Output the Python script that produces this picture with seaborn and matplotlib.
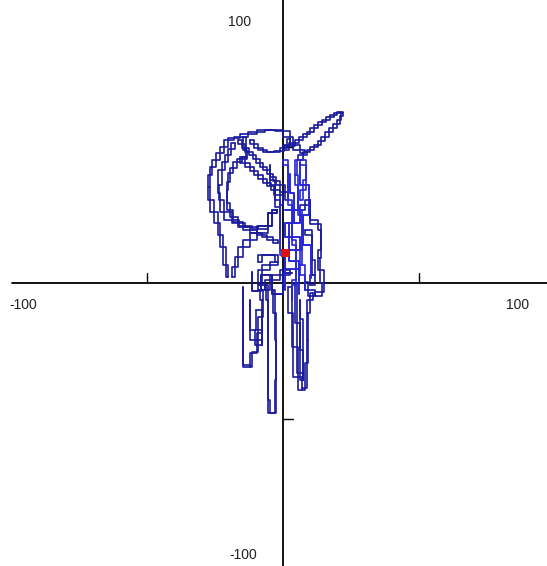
import matplotlib
matplotlib.use("Agg")
import matplotlib.pyplot as plt
import seaborn as sns
import pandas as pd

# ---- data (hand-traced path, data units) ----
outer_left_x = [-18.8, -17.7, -16.6, -14.8, -12.2, -9.6, -5.5, -4.1, -2.2]
outer_left_y = [2.2, 5.9, 9.6, 13.2, 15.8, 18.4, 21.0, 25.7, 26.8]
outer_x = [-20.3, -21.0, -22.1, -23.2, -24.0, -25.5, -26.9, -27.7, -26.9, -26.2, -24.7, -23.2,
           -21.8, -20.3, -18.1, -15.9, -12.9, -9.6, -6.6, -3.0, 0.0, 2.6, 3.7, 6.3, 8.1]
outer_y = [2.2, 6.6, 13.2, 17.6, 22.1, 26.1, 30.5, 35.3, 39.7, 42.6, 45.2, 47.8,
           50.0, 52.6, 53.3, 53.7, 54.8, 55.5, 56.3, 56.3, 55.9, 53.7, 50.7, 48.9, 47.8]
arm_x = [0.0, 2.2, 4.4, 6.0, 7.4, 8.8, 10.0, 11.5, 12.9, 14.4, 15.9, 17.3, 18.8, 20.0, 21.0, 22.1,
         21.5, 21.0, 19.8, 18.5, 17.0, 15.5, 14.2, 12.9, 11.5, 10.0, 8.7, 7.4, 5.5]
arm_y = [48.9, 50.2, 51.5, 52.6, 53.7, 54.6, 55.5, 56.8, 58.1, 59.0, 59.9, 60.9, 61.8, 62.4, 62.9, 62.5,
         61.2, 59.9, 58.5, 57.0, 55.4, 53.7, 52.2, 50.7, 49.8, 48.9, 48.0, 47.1, 45.2]
cap_x = [-12.2, -10.7, -9.2, -7.5, -5.9, -3.5, -1.1, 0.4, 1.5, 2.6]
cap_y = [52.6, 51.1, 49.6, 48.9, 48.2, 48.3, 48.5, 49.6, 50.7, 52.9]
inner_x = [-14.8, -13.7, -13.3, -15.2, -17.0, -18.3, -19.6, -20.2, -20.7, -20.7, -19.6, -18.5,
           -16.6, -14.8, -12.2, -9.6, -7.7, -5.9, -3.7, -1.8]
inner_y = [53.7, 48.9, 46.3, 45.4, 44.5, 42.4, 40.4, 37.3, 34.2, 29.4, 26.8, 24.3,
           22.4, 20.6, 19.5, 18.4, 17.6, 16.9, 15.8, 14.7]
diag1_x = [-16.6, -15.3, -14.0, -12.5, -11.1, -9.8, -8.5, -7.2, -5.9, -4.8, -3.7, -2.4, -1.1, 0.7, 1.8]
diag1_y = [52.6, 51.1, 49.6, 48.3, 47.1, 45.6, 44.1, 42.8, 41.5, 40.2, 39.0, 37.5, 36.0, 33.5, 30.5]
diag2_x = [-15.9, -14.0, -12.2, -10.7, -9.2, -7.5, -5.9, -4.6, -3.3, -1.1, 0.0]
diag2_y = [46.3, 44.1, 42.6, 41.1, 39.7, 38.2, 36.8, 35.5, 34.2, 32.4, 28.7]
left2_x = [-17.7, -19.0, -20.3, -21.4, -22.5, -24.0, -23.6, -23.2, -21.8, -18.8, -16.4, -14.0,
           -11.6, -9.2, -5.5, -4.1, -2.2]
left2_y = [51.5, 49.3, 47.1, 44.3, 41.5, 36.0, 33.2, 30.5, 26.1, 23.2, 22.1, 21.0,
           20.5, 19.9, 21.0, 25.7, 26.8]
mid_x = [-4.8, -4.8, -3.0, -3.0, -1.1, -1.1]
mid_y = [43.4, 38.0, 36.0, 30.5, 28.0, 20.0]
col1_x = [0.0, 1.8, 1.8, 3.3, 3.3, 4.8, 4.8, 3.3, 3.3]
col1_y = [45.2, 43.4, 30.5, 28.7, 15.8, 14.0, 1.1, -0.7, -6.3]
col2_x = [5.2, 4.4, 5.5, 5.5, 7.0, 7.0, 6.3, 8.1, 8.1]
col2_y = [45.2, 39.7, 36.0, 26.8, 25.0, 12.1, 6.6, 2.9, -2.6]
col3_x = [-1.1, -1.1, 0.7, 0.7]
col3_y = [30.5, 12.1, 10.3, -2.6]
col4_x = [6.3, 7.4, 8.5, 8.5, 6.3]
col4_y = [30.5, 34.2, 37.9, 43.4, 45.2]
col5_x = [2.6, 2.6, 4.1, 4.1, 2.2, 2.2, 5.9, 5.9]
col5_y = [40.0, 33.0, 33.0, 22.0, 22.0, 8.0, 8.0, -4.0]
col6_x = [6.3, 6.3, 9.6, 9.6, 7.4, 7.4, 10.3, 10.3]
col6_y = [44.0, 36.0, 36.0, 25.0, 25.0, 14.0, 14.0, 2.0]
grid_x = [0.7, 6.3, 6.3, 0.7, 0.7, 6.3, 6.3, 0.7, 0.7, 6.3]
grid_y = [27.0, 27.0, 22.0, 22.0, 17.0, 17.0, 12.0, 12.0, 5.0, 5.0]
right_x = [6.3, 8.1, 10.0, 10.0, 12.9, 14.0, 14.0, 12.9, 13.7, 15.1, 14.4, 11.8, 9.2, 8.1]
right_y = [26.8, 28.7, 30.5, 23.2, 21.7, 19.5, 12.1, 9.2, 4.8, 0.0, -3.3, -4.8, -2.6, 0.4]
right2_x = [8.1, 10.7, 10.7, 11.8, 10.0]
right2_y = [19.5, 17.6, 8.5, 2.9, -0.7]
low_x = [-9.2, -7.7, -3.0, -1.8, -4.8, -7.7, -9.2, -6.6, -4.8, -1.1, 2.6]
low_y = [7.7, 10.3, 10.3, 7.7, 6.6, 4.8, -0.7, -2.6, 1.1, 2.9, 4.8]
low2_x = [-11.4, -11.4, -8.0, -8.0, -4.0, -4.0, 0.0, 0.0, 3.5]
low2_y = [4.0, -3.0, -3.0, 3.0, 3.0, -4.0, -4.0, 3.5, 3.5]
tail1_x = [-14.8, -14.8, -14.8, -12.2, -11.4, -9.6, -9.2, -7.7, -7.4, -8.5]
tail1_y = [-1.5, -12.5, -30.1, -30.9, -25.7, -25.4, -18.4, -12.5, -6.3, -2.6]
tail2_x = [-6.3, -5.5, -5.5, -5.5, -4.8, -3.0, -2.6, -2.6, -3.0, -3.7]
tail2_y = [-0.7, -6.3, -21.0, -43.0, -47.8, -47.8, -35.7, -21.0, -11.0, -2.6]
tail3_x = [-12.2, -12.2, -10.3, -7.7, -7.7, -10.0]
tail3_y = [-6.3, -17.3, -21.0, -22.8, -17.3, -9.9]
tail4_x = [1.8, 3.3, 3.7, 5.5, 7.0, 8.1, 8.9, 9.2, 8.9, 10.0, 11.1]
tail4_y = [-1.5, -11.0, -23.5, -34.6, -39.3, -38.6, -29.4, -21.0, -11.0, -6.3, -3.7]
tail5_x = [4.4, 5.2, 6.3, 7.4, 7.4, 6.3, 6.3]
tail5_y = [0.0, -14.7, -33.1, -35.7, -24.6, -13.2, -6.3]
start_x = [0.7]
start_y = [11.0]

navy_strokes = [
    (outer_left_x, outer_left_y), (outer_x, outer_y), (arm_x, arm_y), (cap_x, cap_y),
    (inner_x, inner_y), (diag1_x, diag1_y), (diag2_x, diag2_y), (left2_x, left2_y),
    (mid_x, mid_y), (right_x, right_y), (right2_x, right2_y), (low_x, low_y), (low2_x, low2_y),
    (tail1_x, tail1_y), (tail2_x, tail2_y), (tail3_x, tail3_y),
    (tail4_x, tail4_y), (tail5_x, tail5_y),
]
blue_strokes = [
    (col1_x, col1_y), (col2_x, col2_y), (col3_x, col3_y), (col4_x, col4_y),
    (col5_x, col5_y), (col6_x, col6_y), (grid_x, grid_y),
]

tick_positions = [-50, 50]
end_labels = ["-100", "100"]

# ---- figure ----
sns.set_style("white")
plt.rcParams["font.family"] = ["Liberation Sans", "DejaVu Sans"]
fig = plt.figure(figsize=(5.47, 5.66), dpi=100)
ax = fig.add_axes([0, 0, 1, 1])
ax.set_xlim(-104.4, 97.4)
ax.set_ylim(-104.0, 104.0)
for s in ax.spines.values():
    s.set_visible(False)
ax.set_xticks([])
ax.set_yticks([])

# axes cross
ax.plot([-100, 97.4], [0, 0], color="black", lw=1.3, zorder=1)
ax.axvline(0, color="black", lw=1.3, zorder=1)
for t in tick_positions:
    ax.plot([t, t], [0, 3.8], color="black", lw=1.0)
    ax.plot([0, 3.8], [t, t], color="black", lw=1.0)

def draw(strokes, color):
    for xs, ys in strokes:
        df = pd.DataFrame({"x": xs, "y": ys})
        for ds in ("steps-pre", "steps-post"):
            sns.lineplot(data=df, x="x", y="y", sort=False, estimator=None, ax=ax,
                         color=color, lw=1.2, drawstyle=ds, zorder=3)

draw(navy_strokes, "#1a1a9c")
draw(blue_strokes, "#2626d8")

sns.scatterplot(x=start_x, y=start_y, ax=ax, color="#e01010", marker="s", s=30,
                edgecolor="none", zorder=4)

ax.set_xlabel("")
ax.set_ylabel("")

lab = dict(fontsize=10, color="#222222")
ax.text(-100.8, -8.1, end_labels[0], ha="left", va="center", **lab)
ax.text(86.7, -8.1, end_labels[1], ha="center", va="center", **lab)
ax.text(-15.9, 95.8, end_labels[1], ha="center", va="center", **lab)
ax.text(-14.8, -100.0, end_labels[0], ha="center", va="center", **lab)

fig.savefig("out.png", dpi=100, facecolor="white")
